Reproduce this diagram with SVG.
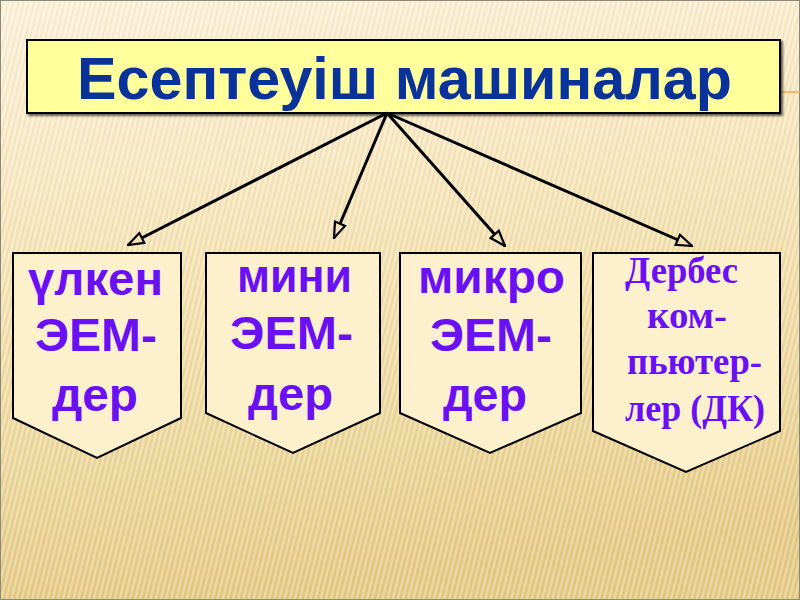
<svg xmlns="http://www.w3.org/2000/svg" width="800" height="600" viewBox="0 0 800 600">
  <defs>
    <linearGradient id="bg" x1="0" y1="0" x2="0.15" y2="1">
      <stop offset="0" stop-color="#fbf1da"/>
      <stop offset="0.35" stop-color="#f6e6bd"/>
      <stop offset="0.75" stop-color="#ecd79c"/>
      <stop offset="1" stop-color="#e3c984"/>
    </linearGradient>
    <pattern id="stripes" width="5" height="10" patternUnits="userSpaceOnUse" patternTransform="rotate(14)">
      <rect x="0" y="0" width="2" height="10" fill="#ffffff" opacity="0.28"/>
      <rect x="3" y="0" width="1" height="10" fill="#b89a50" opacity="0.12"/>
    </pattern>
    <marker id="arr" viewBox="0 0 18 14" refX="17" refY="7" markerWidth="18" markerHeight="14" markerUnits="userSpaceOnUse" orient="auto">
      <path d="M1.5,1.5 L17,7 L1.5,12.5 Z" fill="#f3e2b6" stroke="#000" stroke-width="2.2" stroke-linejoin="miter"/>
    </marker>
    <filter id="sh" x="-5%" y="-5%" width="110%" height="120%">
      <feDropShadow dx="2" dy="2" stdDeviation="1" flood-color="#000" flood-opacity="0.6"/>
    </filter>
  </defs>
  <style>
    .box { fill: #fdf0cd; stroke: #000; stroke-width: 2; stroke-linejoin: miter; }
    .sans { font-family: "Liberation Sans", Arial, sans-serif; font-weight: bold; font-size: 46px; fill: #6a10f5; text-anchor: middle; }
    .serif { font-family: "Liberation Serif", "Times New Roman", serif; font-weight: bold; font-size: 37px; fill: #6a10f5; text-anchor: middle; }
    .title { font-family: "Liberation Sans", Arial, sans-serif; font-weight: bold; font-size: 60px; fill: #0a329b; text-anchor: middle; }
    .conn { stroke: #000; stroke-width: 3; fill: none; marker-end: url(#arr); }
  </style>

  <rect x="0" y="0" width="800" height="600" fill="url(#bg)"/>
  <rect x="0" y="0" width="800" height="600" fill="url(#stripes)"/>
  <rect x="0.5" y="0.5" width="799" height="599" fill="none" stroke="#8a8a7a" stroke-width="1"/>
  <line x1="781" y1="92" x2="800" y2="92" stroke="#f0a848" stroke-width="1.5"/>

  <g id="title">
    <rect x="27" y="40" width="753" height="73" fill="#ffff9c" stroke="#000" stroke-width="2" filter="url(#sh)"/>
    <text class="title" x="404.5" y="99" textLength="655" lengthAdjust="spacingAndGlyphs">Есептеуіш машиналар</text>
  </g>

  <g id="connectors">
    <line class="conn" x1="387" y1="113" x2="128" y2="245"/>
    <line class="conn" x1="387" y1="113" x2="334" y2="238"/>
    <line class="conn" x1="387" y1="113" x2="505" y2="246"/>
    <line class="conn" x1="387" y1="113" x2="692" y2="246"/>
  </g>

  <g id="node-ulken">
    <polygon class="box" points="13,253 181,253 181,418 97,458 13,418"/>
    <text class="sans" x="95.5" y="295" textLength="135" lengthAdjust="spacingAndGlyphs">үлкен</text>
    <text class="sans" x="96" y="351" textLength="122" lengthAdjust="spacingAndGlyphs">ЭЕМ-</text>
    <text class="sans" x="95" y="411" textLength="86" lengthAdjust="spacingAndGlyphs">дер</text>
  </g>

  <g id="node-mini">
    <polygon class="box" points="206,253 380,253 380,413 293,453 206,413"/>
    <text class="sans" x="294.5" y="292" textLength="115" lengthAdjust="spacingAndGlyphs">мини</text>
    <text class="sans" x="291.5" y="349" textLength="123" lengthAdjust="spacingAndGlyphs">ЭЕМ-</text>
    <text class="sans" x="290.5" y="410" textLength="85" lengthAdjust="spacingAndGlyphs">дер</text>
  </g>

  <g id="node-mikro">
    <polygon class="box" points="400,253 581,253 581,413 490,453 400,413"/>
    <text class="sans" x="491.5" y="293" textLength="147" lengthAdjust="spacingAndGlyphs">микро</text>
    <text class="sans" x="491" y="351" textLength="122" lengthAdjust="spacingAndGlyphs">ЭЕМ-</text>
    <text class="sans" x="485" y="411" textLength="84" lengthAdjust="spacingAndGlyphs">дер</text>
  </g>

  <g id="node-derbes">
    <polygon class="box" points="593,253 780,253 780,431 686,472 593,431"/>
    <text class="serif" x="681.5" y="283" textLength="113" lengthAdjust="spacingAndGlyphs">Дербес</text>
    <text class="serif" x="687" y="328" textLength="80" lengthAdjust="spacingAndGlyphs">ком-</text>
    <text class="serif" x="694.5" y="374" textLength="135" lengthAdjust="spacingAndGlyphs">пьютер-</text>
    <text class="serif" x="695" y="421" textLength="140" lengthAdjust="spacingAndGlyphs">лер (ДК)</text>
  </g>
</svg>
